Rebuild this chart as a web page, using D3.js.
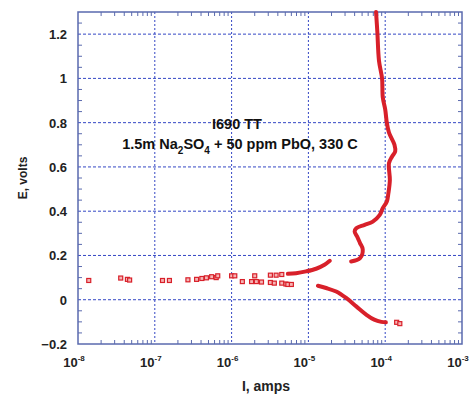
<!DOCTYPE html>
<html><head><meta charset="utf-8">
<script src="https://cdn.jsdelivr.net/npm/d3@7"></script>
<style>body{margin:0;background:#fff;} svg{display:block;font-family:"Liberation Sans",Arial,sans-serif;}</style>
</head><body>
<svg id="c" width="472" height="394"></svg>
<script>
// ---- data (current in amps, potential in volts) ----
const sparseI = [1.38e-8,3.6e-8,4.4e-8,4.7e-8,1.26e-7,1.55e-7,2.7e-7,3.5e-7,4.1e-7,4.7e-7,5.5e-7,6.3e-7,6.6e-7,1.0e-6,1.1e-6,1.38e-6,1.82e-6,2.0e-6,2.1e-6,2.45e-6,3.2e-6,3.2e-6,3.6e-6,3.8e-6,4.5e-6,4.5e-6,5.1e-6,5.4e-6,6.0e-6,1.41e-4,1.55e-4];
const sparseE = [0.087,0.098,0.092,0.089,0.087,0.087,0.090,0.092,0.096,0.099,0.104,0.100,0.108,0.108,0.108,0.082,0.082,0.108,0.082,0.080,0.111,0.078,0.075,0.111,0.114,0.075,0.071,0.069,0.069,-0.102,-0.108];
const riseI = [5.4e-6,6.9e-6,9.3e-6,1.26e-5,1.62e-5,1.9e-5];
const riseE = [0.117,0.120,0.128,0.140,0.158,0.176];
const anodicI = [3.6e-5,4.7e-5,5.1e-5,4.7e-5,4.3e-5,4.0e-5,4.2e-5,5.4e-5,6.9e-5,8.5e-5,9.3e-5,1.05e-4,1.1e-4,1.15e-4,1.12e-4,1.23e-4,1.35e-4,1.32e-4,1.12e-4,1.05e-4,1.0e-4,9.3e-5,9.1e-5,8.3e-5,7.9e-5,7.6e-5];
const anodicE = [0.173,0.188,0.228,0.256,0.286,0.308,0.323,0.338,0.353,0.383,0.414,0.444,0.481,0.541,0.617,0.647,0.670,0.700,0.755,0.800,0.860,0.915,1.000,1.080,1.210,1.300];
const cathodicI = [1.33e-5,1.7e-5,2.3e-5,3.1e-5,4.2e-5,5.7e-5,7.2e-5,8.9e-5,1.02e-4];
const cathodicE = [0.063,0.053,0.037,0.008,-0.030,-0.068,-0.090,-0.100,-0.102];
const xDecades = [1e-8,1e-7,1e-6,1e-5,1e-4,1e-3];
const xExponents = ["-8","-7","-6","-5","-4","-3"];
const yTicks = [-0.2,0,0.2,0.4,0.6,0.8,1,1.2];
const titleLine1 = "I690 TT";

// ---- layout ----
const L=78, R=462, T=12, B=344;
const svg=d3.select("#c");
const x=d3.scaleLog().domain([1e-8,1e-3]).range([L,R]);
const y=d3.scaleLinear().domain([-0.2,1.3]).range([B,T]);
const axisCol="#5a6aae", gridCol="#3447c4", red="#d8202a";

// grid
const g=svg.append("g");
xDecades.slice(1,-1).forEach(v=>g.append("line").attr("x1",x(v)).attr("x2",x(v)).attr("y1",T).attr("y2",B)
  .attr("stroke",gridCol).attr("stroke-width",1).attr("stroke-dasharray","2,2"));
yTicks.slice(1).forEach(v=>g.append("line").attr("x1",L).attr("x2",R).attr("y1",y(v)).attr("y2",y(v))
  .attr("stroke",gridCol).attr("stroke-width",1).attr("stroke-dasharray","3,2"));

// minor ticks
const minorX=[];
for(let d=-8; d<-3; d++) for(let k=2;k<=9;k++) minorX.push(k*Math.pow(10,d));
minorX.forEach(v=>{
  g.append("line").attr("x1",x(v)).attr("x2",x(v)).attr("y1",B).attr("y2",B-4).attr("stroke",axisCol).attr("stroke-width",1);
  g.append("line").attr("x1",x(v)).attr("x2",x(v)).attr("y1",T).attr("y2",T+4).attr("stroke",axisCol).attr("stroke-width",1);
});
d3.range(-0.15,1.3,0.05).forEach(v=>{
  if(Math.abs(Math.round(v*5)-v*5)<1e-6) return;
  g.append("line").attr("x1",L).attr("x2",L+4).attr("y1",y(v)).attr("y2",y(v)).attr("stroke",axisCol).attr("stroke-width",1);
  g.append("line").attr("x1",R).attr("x2",R-4).attr("y1",y(v)).attr("y2",y(v)).attr("stroke",axisCol).attr("stroke-width",1);
});
// frame
g.append("rect").attr("x",L).attr("y",T).attr("width",R-L).attr("height",B-T).attr("fill","none").attr("stroke",axisCol).attr("stroke-width",1.5);

// tick labels
yTicks.forEach(v=>svg.append("text").attr("x",67).attr("y",y(v)+5).attr("text-anchor","end")
  .attr("font-size",13).attr("font-weight","bold").attr("fill","#222").text(d3.format("")(+v.toFixed(1))));
xDecades.forEach((v,i)=>{
  const t=svg.append("text").attr("x",x(v)-4).attr("y",367).attr("text-anchor","middle")
    .attr("font-size",13).attr("font-weight","bold").attr("fill","#222");
  t.append("tspan").text("10");
  t.append("tspan").attr("dy",-6).attr("font-size",8).text(xExponents[i]);
});
svg.append("text").attr("x",266).attr("y",391).attr("text-anchor","middle").attr("font-size",14).attr("font-weight","bold").attr("fill","#222").text("I, amps");
svg.append("text").attr("transform","translate(27,178) rotate(-90)").attr("text-anchor","middle").attr("font-size",12).attr("font-weight","bold").attr("fill","#222").text("E, volts");

// annotation
svg.append("text").attr("x",237).attr("y",129).attr("text-anchor","middle").attr("font-size",14.5).attr("font-weight","bold").attr("fill","#111").text(titleLine1);
const t2=svg.append("text").attr("x",240).attr("y",149).attr("text-anchor","middle").attr("font-size",14.5).attr("font-weight","bold").attr("fill","#111");
t2.append("tspan").text("1.5m Na");
t2.append("tspan").attr("dy",5).attr("font-size",10).text("2");
t2.append("tspan").attr("dy",-5).text("SO");
t2.append("tspan").attr("dy",5).attr("font-size",10).text("4");
t2.append("tspan").attr("dy",-5).text(" + 50 ppm PbO, 330 C");

// data
const line=d3.line().x(d=>x(d[0])).y(d=>y(d[1])).curve(d3.curveCatmullRom);
const zipd=(a,b)=>a.map((v,i)=>[v,b[i]]);
[[riseI,riseE],[anodicI,anodicE],[cathodicI,cathodicE]].forEach(([a,b])=>{
  svg.append("path").datum(zipd(a,b)).attr("d",line).attr("fill","none").attr("stroke",red)
    .attr("stroke-width",4).attr("stroke-linecap","round").attr("stroke-linejoin","round");
});
svg.append("g").selectAll("rect").data(zipd(sparseI,sparseE)).join("rect")
  .attr("x",d=>x(d[0])-2).attr("y",d=>y(d[1])-2).attr("width",4).attr("height",4)
  .attr("fill","#f6b5b5").attr("stroke",red).attr("stroke-width",1.2);
</script>
</body></html>
